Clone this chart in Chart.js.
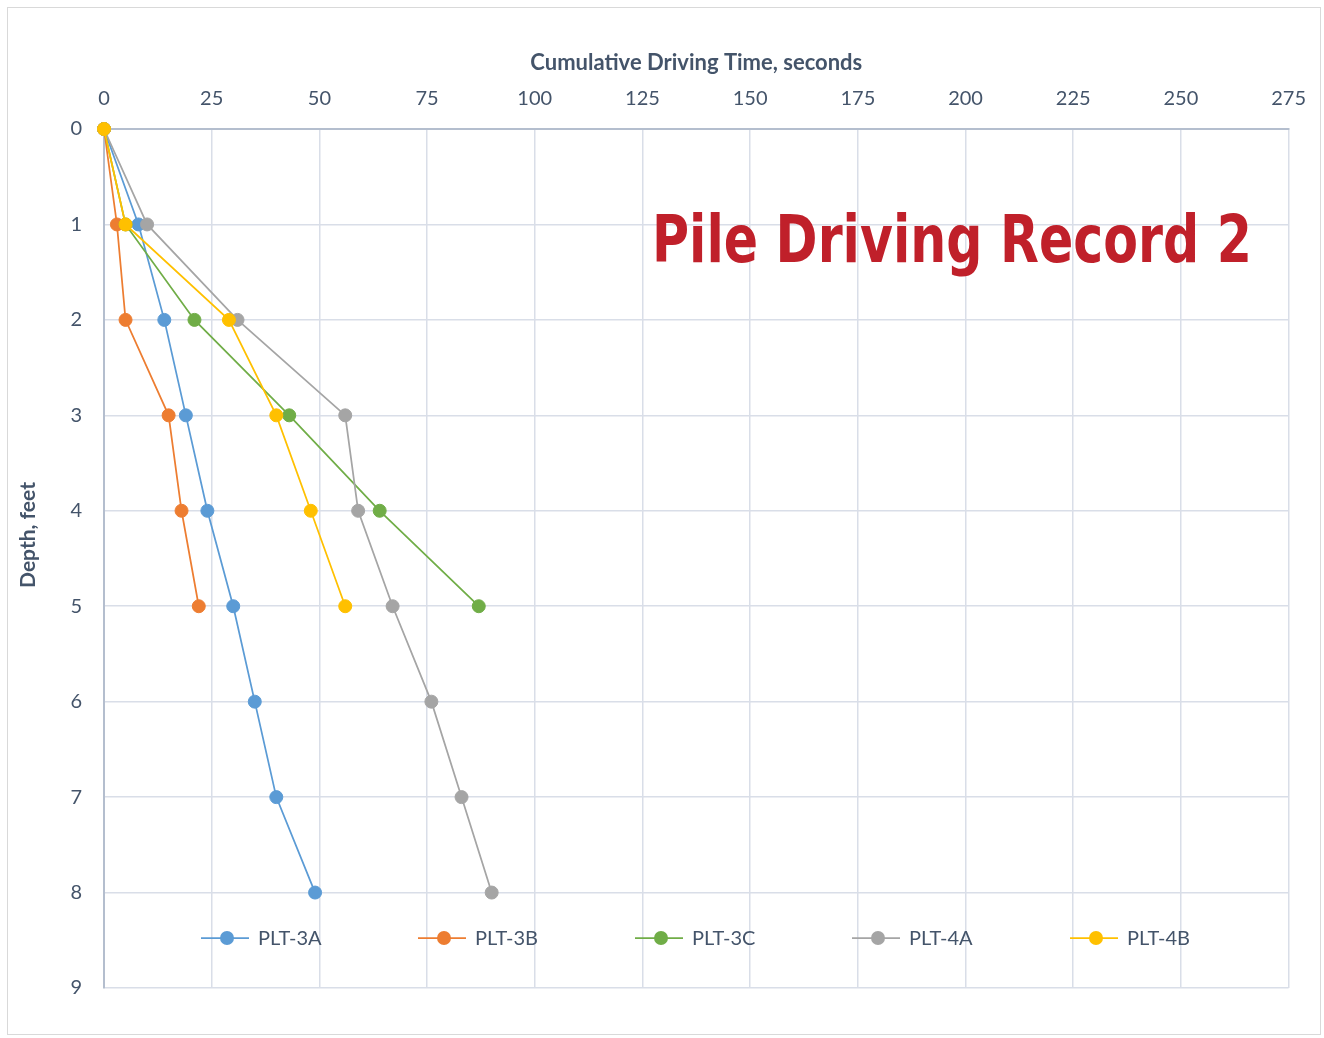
<!DOCTYPE html>
<html><head><meta charset="utf-8">
<script src="https://cdn.jsdelivr.net/npm/chart.js@4.4.1/dist/chart.umd.min.js"></script>
<style>
html,body{margin:0;padding:0;background:#fff;}
#wrap{position:relative;width:1324px;height:1038px;}
#frame{position:absolute;left:7px;top:7px;width:1314px;height:1028px;border:1px solid #D9D9D9;box-sizing:border-box;}
canvas{position:absolute;left:0;top:0;}
</style></head>
<body><div id="wrap"><div id="frame"></div><canvas id="c" width="1324" height="1038"></canvas></div>
<script>
const seriesNames = ['PLT-3A','PLT-3B','PLT-3C','PLT-4A','PLT-4B'];
const seriesColors = ['#5B9BD5','#ED7D31','#70AD47','#A5A5A5','#FFC000'];
const depth3A = [0,1,2,3,4,5,6,7,8];
const time3A  = [0,8,14,19,24,30,35,40,49];
const depth3B = [0,1,2,3,4,5];
const time3B  = [0,3,5,15,18,22];
const depth3C = [0,1,2,3,4,5];
const time3C  = [0,5,21,43,64,87];
const depth4A = [0,1,2,3,4,5,6,7,8];
const time4A  = [0,10,31,56,59,67,76,83,90];
const depth4B = [0,1,2,3,4,5];
const time4B  = [0,5,29,40,48,56];
const xTicks = [0,25,50,75,100,125,150,175,200,225,250,275];
const yTicks = [0,1,2,3,4,5,6,7,8,9];
const chartTitle = 'Pile Driving Record 2';
const xTitle = 'Cumulative Driving Time, seconds';
const yTitle = 'Depth, feet';

const allDepths = [depth3A,depth3B,depth3C,depth4A,depth4B];
const allTimes = [time3A,time3B,time3C,time4A,time4B];

const datasets = seriesNames.map((n,i)=>({
  label:n,
  data: allTimes[i].map((t,j)=>({x:t,y:allDepths[i][j]})),
  borderColor: seriesColors[i],
  backgroundColor: seriesColors[i],
  pointBackgroundColor: seriesColors[i],
  pointBorderColor: seriesColors[i],
  pointRadius: 6.5,
  pointBorderWidth: 1,
  borderWidth: 1.75,
  showLine: true,
  tension: 0,
  clip: false,
  order: seriesNames.length - i
}));

const tickColor = '#44546A';
const FONT = 'Lato, "Open Sans", sans-serif';

const overlay = {
  id:'overlay',
  afterDraw(chart){
    const ctx = chart.ctx;
    ctx.save();
    // title
    ctx.fillStyle = '#C0202A';
    ctx.font = 'bold 66px "DejaVu Sans Condensed", "DejaVu Sans", sans-serif';
    ctx.textBaseline = 'alphabetic';
    ctx.textAlign = 'left';
    const w = ctx.measureText(chartTitle).width;
    const target = 600;
    ctx.translate(652, 262);
    ctx.scale(target / w, 1);
    ctx.fillText(chartTitle, 0, 0);
    ctx.restore();
    // y axis title
    ctx.save();
    ctx.fillStyle = tickColor;
    ctx.font = 'bold 21px ' + FONT;
    ctx.textAlign = 'center';
    ctx.textBaseline = 'middle';
    ctx.translate(28, 535);
    ctx.rotate(-Math.PI/2);
    ctx.fillText(yTitle, 0, 0);
    ctx.restore();
    // legend
    ctx.save();
    const centers = [227,444,661,878,1096];
    const ly = 938;
    ctx.font = '20px ' + FONT;
    ctx.textBaseline = 'middle';
    ctx.textAlign = 'left';
    seriesNames.forEach((n,i)=>{
      const cx = centers[i];
      ctx.strokeStyle = seriesColors[i];
      ctx.lineWidth = 1.75;
      ctx.beginPath(); ctx.moveTo(cx-26, ly); ctx.lineTo(cx+22, ly); ctx.stroke();
      ctx.fillStyle = seriesColors[i];
      ctx.beginPath(); ctx.arc(cx, ly, 7, 0, Math.PI*2); ctx.fill();
      ctx.fillStyle = tickColor;
      ctx.fillText(n, cx+31, ly+1);
    });
    ctx.restore();
  }
};

new Chart(document.getElementById('c'), {
  type:'scatter',
  data:{datasets},
  options:{
    responsive:false,
    animation:false,
    layout:{padding:{left:0,top:0,right:35,bottom:50}},
    plugins:{legend:{display:false},tooltip:{enabled:false},title:{display:false}},
    scales:{
      x:{
        type:'linear', position:'top', min:0, max:275,
        afterBuildTicks(s){ s.ticks = xTicks.map(v=>({value:v})); },
        afterFit(s){ s.height = 129; },
        grid:{color:'#D9DEE8', lineWidth:1.5, drawTicks:false},
        border:{color:'#B4BECE', width:2},
        ticks:{color:tickColor, font:{family:FONT,size:20}, padding:18, maxRotation:0},
        title:{display:true, text:xTitle, color:tickColor, font:{family:FONT,size:22,weight:'bold'}, padding:{top:50,bottom:0}}
      },
      y:{
        type:'linear', reverse:true, min:0, max:9,
        afterBuildTicks(s){ s.ticks = yTicks.map(v=>({value:v})); },
        afterFit(s){ s.width = 104; },
        grid:{color:'#D9DEE8', lineWidth:1.5, drawTicks:false},
        border:{color:'#B4BECE', width:2},
        ticks:{color:tickColor, font:{family:FONT,size:20}, padding:22},
        title:{display:false}
      }
    }
  },
  plugins:[overlay]
});
</script></body></html>
